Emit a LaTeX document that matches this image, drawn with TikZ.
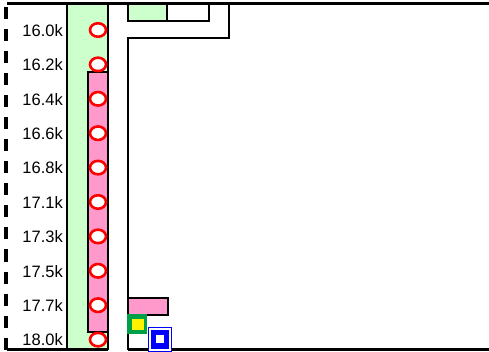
\documentclass[tikz,border=0pt]{standalone}
\usepackage{fontspec}
\setmainfont{Liberation Sans}
\usetikzlibrary{shapes.geometric}
\definecolor{lgreen}{RGB}{204,255,204}
\definecolor{pinkc}{RGB}{255,153,204}
\definecolor{sqgreen}{RGB}{0,160,72}
\begin{document}
\begin{tikzpicture}[x=1pt,y=-1pt,line join=miter,
  lw/.style={line width=2.6pt},
  lbl/.style={anchor=east,font=\fontsize{16.5}{18}\selectfont,inner sep=0pt},
  stn/.style={draw=red,line width=2.6pt,fill=white,ellipse,minimum width=16pt,minimum height=13.5pt,inner sep=0pt}]
\useasboundingbox (0,0) rectangle (489,352);
% platform columns
\draw[lw,fill=lgreen] (67,4) rectangle (108,349);
\draw[lw,fill=pinkc] (88,72) rectangle (108,332);
% top and bottom lines
\draw[line width=3pt] (7,4) -- (489,4);
\draw[lw] (7,349.5) -- (108,349.5);
\draw[lw] (128,349.5) -- (489,349.5);
% left dashed line
\draw[line width=4pt,dash pattern=on 12pt off 10pt] (6,7.5) -- (6,352);
% right structure
\draw[lw] (128,349.5) -- (128,38) -- (229,38) -- (229,4);
\draw[lw,fill=lgreen] (128,4) rectangle (167,21);
\draw[lw] (167,21) -- (209,21) -- (209,4);
% bottom items
\draw[lw,fill=pinkc] (128,298) rectangle (168,315);
\fill[sqgreen] (126.7,314) rectangle (147.3,334.3);
\fill[yellow] (131.5,318.5) rectangle (144,330);
\fill[white] (148,327) rectangle (172,352);
\draw[blue,line width=1pt] (148.5,327.5) rectangle (171.5,351.5);
\fill[blue] (151,330) rectangle (169,348.5);
\fill[white] (156,335) rectangle (163.5,342.7);
% stations and labels
\foreach \i/\t [count=\k] in {0/16.0k,1/16.2k,2/16.4k,3/16.6k,4/16.8k,5/17.1k,6/17.3k,7/17.5k,8/17.7k,9/18.0k}{
  \node[stn] (s\k) at (98,30+34.4*\i) {};
  \node[lbl] (l\k) at (63,30.5+34.4*\i) {\t};
}
\end{tikzpicture}
\end{document}
